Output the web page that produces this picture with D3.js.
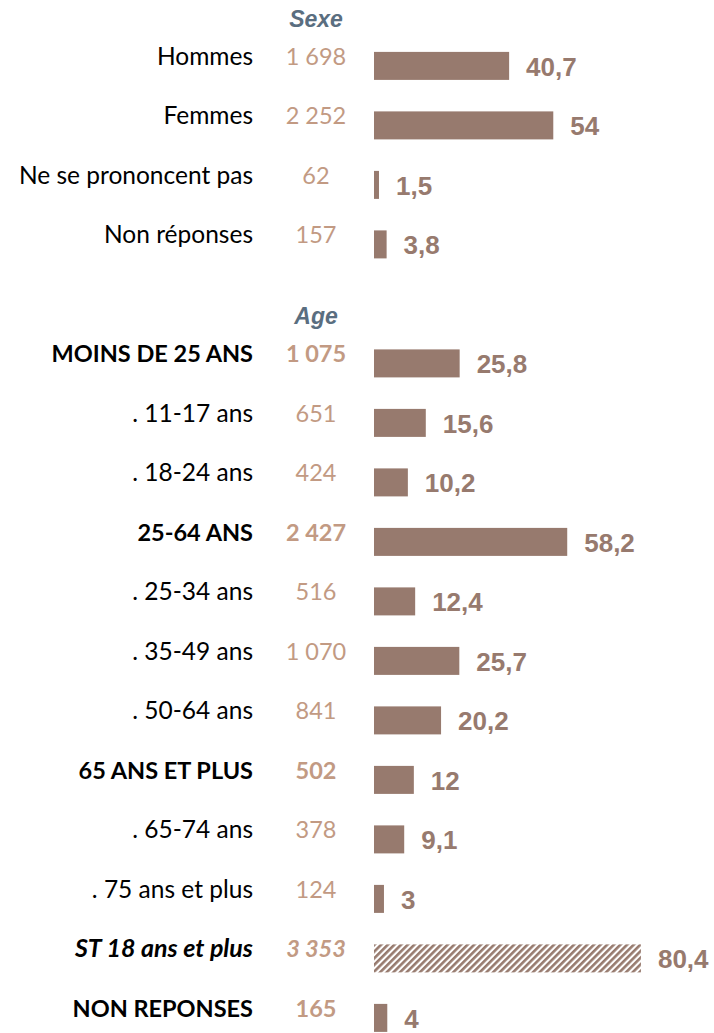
<!DOCTYPE html>
<html lang="fr">
<head>
<meta charset="UTF-8">
<title>Sexe / Age</title>
<style>
  body { margin: 0; background: #fff; }
  svg { display: block; }
</style>
</head>
<body>
<svg id="chart"></svg>
<script src="https://cdn.jsdelivr.net/npm/d3@7"></script>
<script>
// données
const sexeLabels = ["Hommes", "Femmes", "Ne se prononcent pas", "Non réponses"];
const sexeCounts = [1698, 2252, 62, 157];
const sexePct = [40.7, 54, 1.5, 3.8];

const ageLabels = ["MOINS DE 25 ANS", ". 11-17 ans", ". 18-24 ans", "25-64 ANS", ". 25-34 ans",
  ". 35-49 ans", ". 50-64 ans", "65 ANS ET PLUS", ". 65-74 ans", ". 75 ans et plus",
  "ST 18 ans et plus", "NON REPONSES"];
const ageCounts = [1075, 651, 424, 2427, 516, 1070, 841, 502, 378, 124, 3353, 165];
const agePct = [25.8, 15.6, 10.2, 58.2, 12.4, 25.7, 20.2, 12, 9.1, 3, 80.4, 4];
// type de ligne : item / groupe / sous-total
const ageKinds = ["group", "item", "item", "group", "item", "item", "item", "group", "item", "item",
  "subtotal", "group"];

const sections = ["Sexe", "Age"];

// construction des lignes (entête + lignes de chaque section)
const slots = [];
sections.forEach((s, si) => {
  slots.push({ key: "h-" + s, header: s });
  const labels = si === 0 ? sexeLabels : ageLabels;
  const counts = si === 0 ? sexeCounts : ageCounts;
  const pct = si === 0 ? sexePct : agePct;
  labels.forEach((l, i) => slots.push({
    key: s + "-" + i, label: l, count: counts[i], pct: pct[i],
    kind: si === 0 ? "item" : ageKinds[i]
  }));
});

const W = 714, H = 1033;
const barColor = "#977a6e", countColor = "#c29a83", headColor = "#5a6e80";

const svg = d3.select("#chart").attr("width", W).attr("height", H);

const defs = svg.append("defs");
const pat = defs.append("pattern")
  .attr("id", "hatch")
  .attr("patternUnits", "userSpaceOnUse")
  .attr("width", 4.7).attr("height", 4.7)
  .attr("patternTransform", "rotate(45)");
pat.append("rect").attr("width", 4.7).attr("height", 4.7).attr("fill", "#fff");
pat.append("rect").attr("width", 2.6).attr("height", 4.7).attr("fill", barColor);

const y = d3.scalePoint().domain(slots.map(d => d.key)).range([6.4, 1017.9]);
const x = d3.scaleLinear().domain([0, 100]).range([374, 706]);

const frFmt = d3.formatLocale({ decimal: ",", thousands: "\u00a0", grouping: [3], currency: ["", " €"] });
const fmtCount = frFmt.format(",d");
const fmtPct = frFmt.format(".1~f");

// entêtes
svg.selectAll("text.head")
  .data(slots.filter(d => d.header))
  .join("text")
  .attr("class", "head")
  .attr("x", 316)
  .attr("y", d => y(d.key) + 20.5)
  .attr("text-anchor", "middle")
  .attr("font-family", "'Liberation Sans', Arial, sans-serif")
  .attr("font-weight", "bold")
  .attr("font-style", "italic")
  .attr("font-size", 23)
  .attr("fill", headColor)
  .text(d => d.header);

const rows = svg.selectAll("g.row")
  .data(slots.filter(d => !d.header))
  .join("g")
  .attr("class", "row")
  .attr("transform", d => `translate(0,${y(d.key)})`);

const isBold = d => d.kind !== "item";
const isItal = d => d.kind === "subtotal";
const labelSize = d => d.kind === "item" ? 24.5 : d.kind === "subtotal" ? 25 : 23.5;

rows.append("text")
  .attr("x", 253)
  .attr("y", -1)
  .attr("text-anchor", "end")
  .attr("font-family", "Lato, 'Open Sans', sans-serif")
  .attr("font-size", labelSize)
  .attr("font-weight", d => isBold(d) ? "bold" : "normal")
  .attr("font-style", d => isItal(d) ? "italic" : "normal")
  .attr("fill", "#000")
  .text(d => d.label);

rows.append("text")
  .attr("x", 316)
  .attr("y", -1)
  .attr("text-anchor", "middle")
  .attr("font-family", "Lato, 'Open Sans', sans-serif")
  .attr("font-size", 23.5)
  .attr("font-weight", d => isBold(d) ? "bold" : "normal")
  .attr("font-style", d => isItal(d) ? "italic" : "normal")
  .attr("fill", countColor)
  .text(d => fmtCount(d.count));

rows.append("rect")
  .attr("x", x(0))
  .attr("y", -14)
  .attr("width", d => x(d.pct) - x(0))
  .attr("height", 28)
  .attr("fill", d => d.kind === "subtotal" ? "url(#hatch)" : barColor);

rows.append("text")
  .attr("x", d => x(d.pct) + 17)
  .attr("y", 10)
  .attr("font-family", "'Liberation Sans', Arial, sans-serif")
  .attr("font-weight", "bold")
  .attr("font-size", 26)
  .attr("fill", barColor)
  .text(d => fmtPct(d.pct));
</script>
</body>
</html>
